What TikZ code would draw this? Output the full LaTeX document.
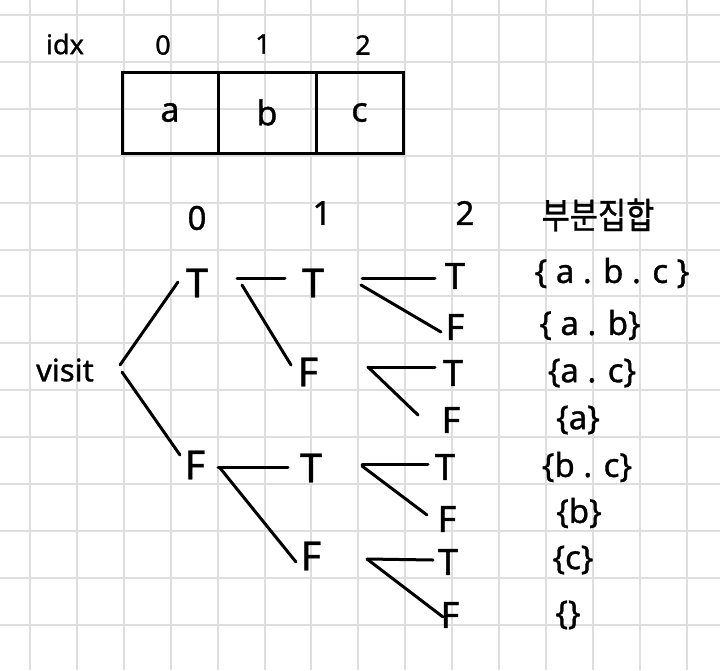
\documentclass[tikz,border=0pt]{standalone}
\usepackage{fontspec}
\setmainfont[FakeBold=1]{Noto Sans}
\newfontfamily\kr[FakeBold=1]{Noto Sans CJK KR}
\usetikzlibrary{calc}
\tikzset{
  ink/.style={line width=3pt, line cap=round, black},
  gridline/.style={line width=2pt, draw=black!13},
  big/.style={inner sep=0pt, font=\fontsize{40}{40}\selectfont},
  mid/.style={inner sep=0pt, font=\fontsize{36}{36}\selectfont},
  head/.style={inner sep=0pt, font=\fontsize{33}{33}\selectfont},
  small/.style={inner sep=0pt, font=\fontsize{27}{27}\selectfont},
  settxt/.style={inner sep=0pt, font=\fontsize{33}{33}\selectfont},
  cell/.style={draw, line width=3pt, minimum height=81pt, inner sep=0pt, font=\fontsize{34}{34}\selectfont}
}
\begin{document}
\begin{tikzpicture}[x=1pt,y=-1pt]
\useasboundingbox (0,0) rectangle (720,670);
\fill[white] (0,0) rectangle (720,670);
% grid
\foreach \k in {0,...,14} {
  \draw[gridline] ({30+46.9*\k},0) -- ({30+46.9*\k},670);
}
\foreach \k in {0,...,13} {
  \draw[gridline] (0,{15+46.9*\k}) -- (720,{15+46.9*\k});
}
% index row
\node[small] (idx) at (65,44) {idx};
\node[small] (i0) at (163,45) {0};
\node[small] (i1) at (263,44) {1};
\node[small] (i2) at (363,45) {2};
% array cells
\node[cell, minimum width=96pt] (c0) at (170,112.5) {a};
\node[cell, minimum width=98pt] (c1) at (267,112.5) {b};
\node[cell, minimum width=87pt] (c2) at (359.5,112.5) {c};
% tree headers
\node[head] (h0) at (197,218) {0};
\node[head] (h1) at (322,213) {1};
\node[head] (h2) at (465,213) {2};
\node[inner sep=0pt, xscale=0.85, font=\kr\fontsize{36}{36}\selectfont] (hk) at (598,215) {부분집합};
% tree nodes
\node[inner sep=0pt, font=\fontsize{31}{31}\selectfont] (visit) at (65,370) {visit};
\node[big] (T0) at (197,283) {T};
\node[big] (F0) at (195,465) {F};
\node[big] (TT) at (313,283) {T};
\node[big] (TF) at (308,372) {F};
\node[big] (FT) at (311,468) {T};
\node[big] (FF) at (311,556) {F};
\node[mid] (TTT) at (455,276) {T};
\node[mid] (TTF) at (455,327) {F};
\node[mid] (TFT) at (453,373) {T};
\node[mid] (TFF) at (451,420) {F};
\node[mid] (FTT) at (445,467) {T};
\node[mid] (FTF) at (447,519) {F};
\node[mid] (FFT) at (448,562) {T};
\node[mid] (FFF) at (450,615) {F};
% subsets
\node[settxt] (s1) at (612,273) {\{ a . b . c \}};
\node[settxt] (s2) at (590,325) {\{ a . b\}};
\node[settxt] (s3) at (592,373) {\{a . c\}};
\node[settxt] (s4) at (578,420) {\{a\}};
\node[settxt] (s5) at (587,467) {\{b . c\}};
\node[settxt] (s6) at (579,513) {\{b\}};
\node[settxt] (s7) at (573,560) {\{c\}};
\node[settxt] (s8) at (568,615) {\{\}};
% connectors
\draw[ink] ($(visit)+(55,-5)$) -- ($(T0)+(-19,-1)$);
\draw[ink] ($(visit)+(57,2)$) -- ($(F0)+(-15,-10)$);
\draw[ink] ($(T0)+(40,-5)$) -- ($(TT)+(-28,-5)$);
\draw[ink] ($(T0)+(45,2)$) -- ($(TF)+(-17,-7)$);
\draw[ink] ($(F0)+(23,2)$) -- ($(FT)+(-23,-1)$);
\draw[ink] ($(F0)+(25,3)$) -- ($(FF)+(-15,6)$);
\draw[ink] ($(TT)+(49,-5)$) -- ($(TTT)+(-20,2)$);
\draw[ink] ($(TT)+(48,2)$) -- ($(TTF)+(-14,5)$);
\draw[ink] ($(TF)+(60,-5)$) -- ($(TFT)+(-18,-6)$);
\draw[ink] ($(TF)+(60,-5)$) -- ($(TFF)+(-33,-5)$);
\draw[ink] ($(FT)+(51,-4)$) -- ($(FTT)+(-17,-3)$);
\draw[ink] ($(FT)+(51,-2)$) -- ($(FTF)+(-20,-4)$);
\draw[ink] ($(FF)+(56,3)$) -- ($(FFT)+(-15,-2)$);
\draw[ink] ($(FF)+(56,3)$) -- ($(FFF)+(-7,2)$);
\end{tikzpicture}
\end{document}
